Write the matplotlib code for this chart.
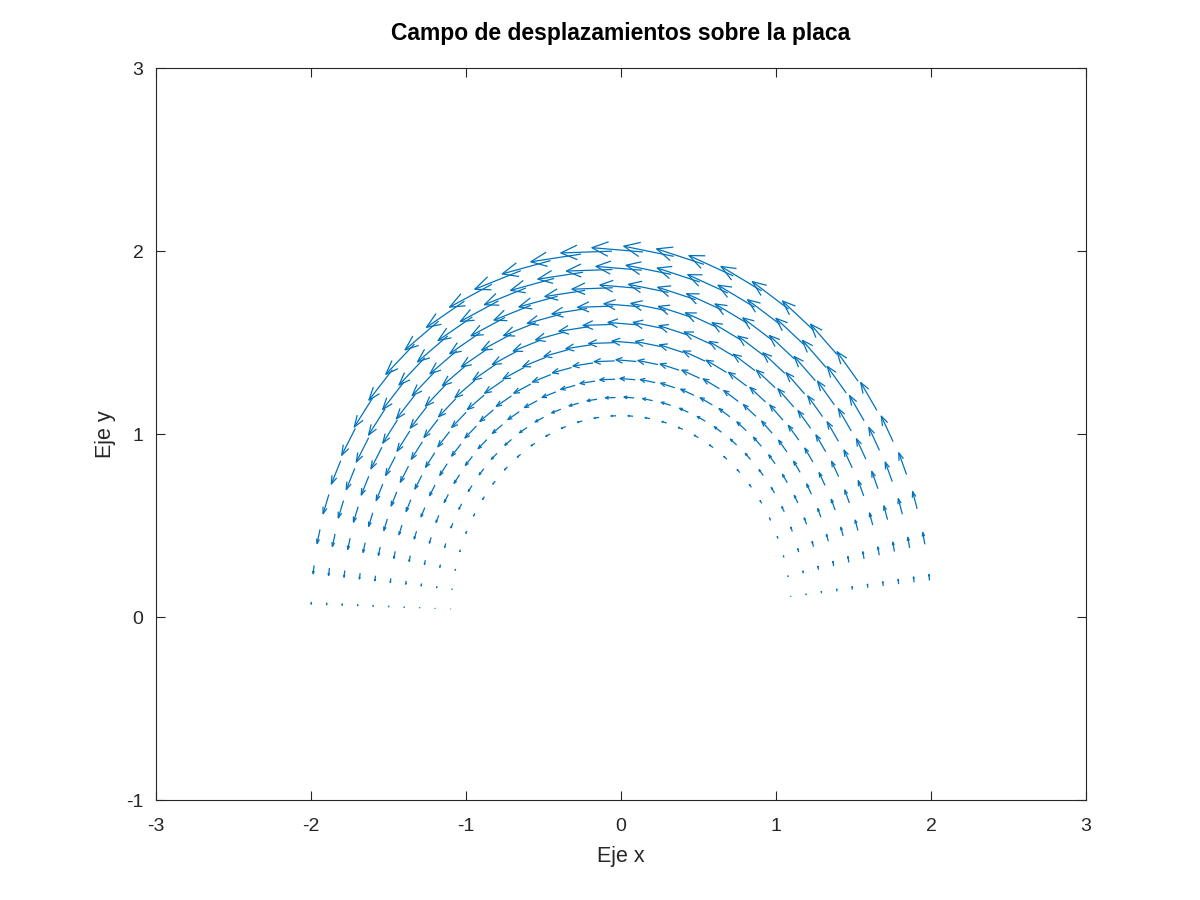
import numpy as np
import matplotlib
matplotlib.use("Agg")
import matplotlib.pyplot as plt
from matplotlib.collections import LineCollection

plt.rcParams['font.family'] = ['Liberation Sans', 'DejaVu Sans']
plt.rcParams['axes.unicode_minus'] = False

# Grid of the plate (polar coordinates)
radii = [1.1, 1.2, 1.3, 1.4, 1.5, 1.6, 1.7, 1.8, 1.9, 2.0]
angles = [0.1, 0.2, 0.3, 0.4, 0.5, 0.6, 0.7, 0.8, 0.9, 1.0, 1.1, 1.2, 1.3, 1.4,
          1.5, 1.6, 1.7, 1.8, 1.9, 2.0, 2.1, 2.2, 2.3, 2.4, 2.5, 2.6, 2.7, 2.8,
          2.9, 3.0, 3.1]
# Relative displacement magnitude
radial_factor = [0.1, 0.2, 0.3, 0.4, 0.5, 0.6, 0.7, 0.8, 0.9, 1.0]
angular_factor = [0.10, 0.20, 0.30, 0.39, 0.48, 0.56, 0.64, 0.72, 0.78, 0.84,
                  0.89, 0.93, 0.96, 0.99, 1.00, 1.00, 0.99, 0.97, 0.95, 0.91,
                  0.86, 0.81, 0.75, 0.68, 0.60, 0.52, 0.43, 0.34, 0.24, 0.14,
                  0.04]
peak_length = 0.33  # drawn length of the longest arrow (data units)

color = '#0072BD'

R, T = np.meshgrid(np.array(radii), np.array(angles))
Fr, Ft = np.meshgrid(np.array(radial_factor), np.array(angular_factor))
mag = peak_length * Fr * Ft
x = R * np.cos(T)
y = R * np.sin(T)
u = -mag * np.sin(T)
v = mag * np.cos(T)

xe, ye = x + u, y + v
back = 0.32
half = 0.12
xb, yb = x + u * (1 - back), y + v * (1 - back)

shafts = np.stack([np.stack([x.ravel(), y.ravel()], 1),
                   np.stack([xe.ravel(), ye.ravel()], 1)], 1)
h1 = np.stack([(xb - v * half).ravel(), (yb + u * half).ravel()], 1)
h2 = np.stack([(xb + v * half).ravel(), (yb - u * half).ravel()], 1)
tip = np.stack([xe.ravel(), ye.ravel()], 1)
heads = np.stack([h1, tip, h2], 1)

fig = plt.figure(figsize=(12, 9), dpi=100)
ax = fig.add_axes([0.13, 0.1111, 0.775, 0.8133])
ax.add_collection(LineCollection(list(shafts), colors=color, linewidths=0.9))
ax.add_collection(LineCollection(list(heads), colors=color, linewidths=0.9))

ax.set_xlim(-3, 3)
ax.set_ylim(-1, 3)
ax.set_xticks([-3, -2, -1, 0, 1, 2, 3])
ax.set_yticks([-1, 0, 1, 2, 3])
ax.tick_params(direction='in', top=True, right=True, length=6.5, width=0.8,
               labelsize=14, colors='#262626')
ax.tick_params(axis='x', pad=13)
ax.tick_params(axis='y', pad=9)
for s in ax.spines.values():
    s.set_linewidth(0.8)
    s.set_color('#262626')

ax.set_title('Campo de desplazamientos sobre la placa', fontsize=16.5,
             fontweight='bold', pad=20)
ax.set_xlabel('Eje x', fontsize=15.5, color='#262626', labelpad=8)
ax.set_ylabel('Eje y', fontsize=15.5, color='#262626', labelpad=7)

fig.savefig('out.png', dpi=100)
